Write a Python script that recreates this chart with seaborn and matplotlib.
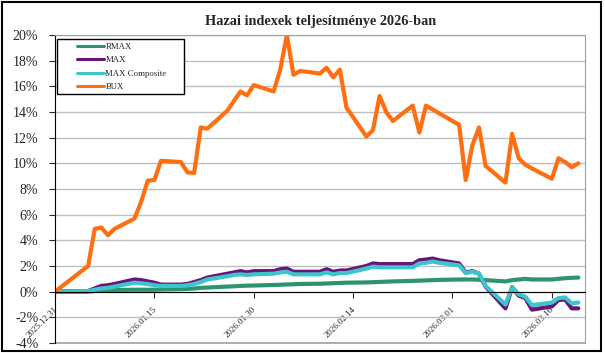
import pandas as pd
import numpy as np
import matplotlib.pyplot as plt
import matplotlib.dates as mdates
import matplotlib.transforms as mtransforms
from matplotlib.lines import Line2D
from matplotlib.patches import Rectangle
from matplotlib.ticker import FuncFormatter
import seaborn as sns

sns.set_style("white")
plt.rcParams['font.family'] = ['Liberation Serif', 'DejaVu Serif']

# trading days
dates = pd.to_datetime([
    "2025-12-31",
    "2026-01-05", "2026-01-06", "2026-01-07", "2026-01-08", "2026-01-09",
    "2026-01-12", "2026-01-13", "2026-01-14", "2026-01-15", "2026-01-16",
    "2026-01-19", "2026-01-20", "2026-01-21", "2026-01-22", "2026-01-23",
    "2026-01-26", "2026-01-27", "2026-01-28", "2026-01-29", "2026-01-30",
    "2026-02-02", "2026-02-03", "2026-02-04", "2026-02-05", "2026-02-06",
    "2026-02-09", "2026-02-10", "2026-02-11", "2026-02-12", "2026-02-13",
    "2026-02-16", "2026-02-17", "2026-02-18", "2026-02-19", "2026-02-20",
    "2026-02-23", "2026-02-24", "2026-02-25", "2026-02-26", "2026-02-27",
    "2026-03-02", "2026-03-03", "2026-03-04", "2026-03-05", "2026-03-06",
    "2026-03-09", "2026-03-10", "2026-03-11", "2026-03-12", "2026-03-13",
    "2026-03-16", "2026-03-17", "2026-03-18", "2026-03-19", "2026-03-20",
])

# performance since year start, %
rmax = [0.0,
        0.0, 0.05, 0.10, 0.12, 0.13,
        0.15, 0.15, 0.15, 0.15, 0.17,
        0.20, 0.22, 0.25, 0.30, 0.32,
        0.40, 0.42, 0.45, 0.47, 0.48,
        0.52, 0.54, 0.56, 0.58, 0.60,
        0.62, 0.64, 0.66, 0.68, 0.70,
        0.72, 0.74, 0.76, 0.78, 0.80,
        0.84, 0.86, 0.88, 0.90, 0.92,
        0.95, 0.95, 0.95, 0.93, 0.90,
        0.80, 0.90, 0.95, 1.00, 0.95,
        0.95, 1.00, 1.05, 1.08, 1.10]

max_idx = [0.0,
           0.05, 0.25, 0.45, 0.50, 0.60,
           0.95, 0.90, 0.80, 0.70, 0.55,
           0.55, 0.60, 0.75, 0.90, 1.10,
           1.40, 1.50, 1.60, 1.50, 1.60,
           1.60, 1.75, 1.80, 1.55, 1.55,
           1.55, 1.75, 1.55, 1.65, 1.65,
           2.00, 2.20, 2.15, 2.15, 2.15,
           2.15, 2.45, 2.50, 2.58, 2.45,
           2.20, 1.50, 1.60, 1.40, 0.40,
           -1.30, 0.35, -0.30, -0.50, -1.40,
           -1.15, -0.65, -0.60, -1.30, -1.30]

max_comp = [0.0,
            0.05, 0.15, 0.25, 0.30, 0.40,
            0.70, 0.65, 0.60, 0.50, 0.45,
            0.45, 0.50, 0.60, 0.75, 0.95,
            1.20, 1.30, 1.35, 1.30, 1.35,
            1.40, 1.50, 1.55, 1.35, 1.35,
            1.35, 1.50, 1.35, 1.45, 1.45,
            1.80, 1.95, 1.90, 1.90, 1.90,
            1.90, 2.20, 2.25, 2.35, 2.25,
            2.05, 1.45, 1.55, 1.40, 0.45,
            -1.00, 0.35, -0.20, -0.40, -1.05,
            -0.85, -0.50, -0.45, -0.90, -0.85]

bux = [0.0,
       2.0, 4.9, 5.0, 4.4, 4.9,
       5.7, 7.0, 8.65, 8.7, 10.2,
       10.1, 9.3, 9.25, 12.8, 12.7,
       14.1, 14.85, 15.6, 15.3, 16.1,
       15.6, 17.3, 20.0, 16.9, 17.2,
       17.0, 17.45, 16.7, 17.3, 14.35,
       12.1, 12.6, 15.25, 14.0, 13.3,
       14.5, 12.4, 14.5, 14.2, 13.9,
       13.0, 8.7, 11.4, 12.8, 9.8,
       8.5, 12.3, 10.4, 9.9, 9.6,
       8.8, 10.4, 10.1, 9.7, 10.0]

names = ["RMAX", "MAX", "MAX Composite", "BUX"]
colors = ["#2E9470", "#6A1478", "#3CC6CC", "#FF6E10"]

df = pd.DataFrame({"date": dates, "RMAX": rmax, "MAX": max_idx,
                   "MAX Composite": max_comp, "BUX": bux})
long_df = df.melt(id_vars="date", var_name="index", value_name="value")

fig = plt.figure(figsize=(6.05, 3.53), dpi=100)
ax = fig.add_axes([0.0909, 0.0283, 0.876, 0.8725])

sns.lineplot(data=long_df, x="date", y="value", hue="index", hue_order=names,
             palette=colors, linewidth=3.0, legend=False, ax=ax)

ax.set_ylim(-4, 20)
ax.set_yticks(np.arange(-4, 21, 2))
ax.yaxis.set_major_formatter(FuncFormatter(lambda v, p: f"{v:.0f}%"))
ax.set_xlim(pd.Timestamp("2025-12-31"), pd.Timestamp("2026-03-21"))
ax.set_xticks(pd.date_range("2025-12-31", periods=6, freq="15D"))
ax.xaxis.set_major_formatter(mdates.DateFormatter("%Y.%m.%d"))
ax.set_xlabel("")
ax.set_ylabel("")

ax.grid(axis="y", color="#BFBFBF", linewidth=1)
ax.grid(axis="x", visible=False)

# x axis crosses at 0
ax.spines["bottom"].set_position(("data", 0))
ax.spines["bottom"].set_color("black")
ax.spines["left"].set_color("black")
ax.spines["top"].set_color("#A0A0A0")
ax.spines["right"].set_color("#A0A0A0")
ax.axhline(-4, color="#A0A0A0", linewidth=1.2, clip_on=False)

ax.tick_params(axis="y", labelsize=10, length=4, direction="out", pad=8, left=True)
ax.tick_params(axis="x", labelsize=6.5, length=4, direction="out", pad=2, bottom=True)
shift = mtransforms.ScaledTranslation(0.04, -0.05, fig.dpi_scale_trans)
for lbl in ax.get_xticklabels():
    lbl.set_rotation(45)
    lbl.set_ha("right")
    lbl.set_va("top")
    lbl.set_transform(lbl.get_transform() + shift)

# legend
ax.add_patch(Rectangle((0.004, 0.808), 0.24, 0.179, transform=ax.transAxes,
                       fill=True, facecolor="white", edgecolor="black",
                       linewidth=1, zorder=4))
handles = [Line2D([], [], color=c, linewidth=2.2) for c in colors]
leg = ax.legend(handles, names, loc="upper left", bbox_to_anchor=(0.042, 0.975),
                frameon=False, fontsize=6.3, handlelength=3.0, handletextpad=0.2,
                labelspacing=0.62, borderpad=0, borderaxespad=0)
leg.set_zorder(5)

fig.text(0.53, 0.94, "Hazai indexek teljesítménye 2026-ban", ha="center",
         va="center", fontsize=10.3, fontweight="bold")

# outer chart border
fig.add_artist(Rectangle((0.004, 0.006), 0.99, 0.988, transform=fig.transFigure,
                         fill=False, edgecolor="black", linewidth=1.5))

fig.savefig("out.png", dpi=100)
